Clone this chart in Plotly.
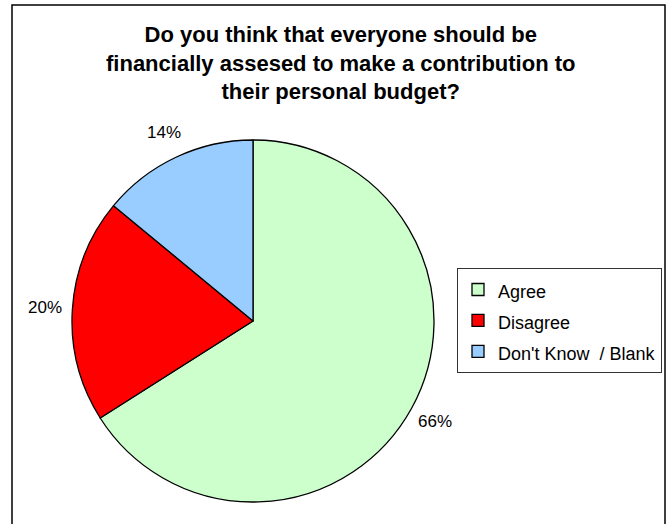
import math
import plotly.graph_objects as go

# Survey responses
categories = ["Agree", "Disagree", "Don't Know  / Blank"]
shares = [66, 20, 14]
colors = ["#CCFFCC", "#FF0000", "#99CCFF"]

title_lines = [
    "Do you think that everyone should be",
    "financially assesed to make a contribution to",
    "their personal budget?",
]

W, H = 667, 524
FONT = "Liberation Sans, Arial, sans-serif"

# Pie geometry in pixels (centre and radius)
PIE_CX, PIE_CY, PIE_R = 253, 321, 181
LABEL_R = PIE_R * 1.15

fig = go.Figure(
    go.Pie(
        labels=[f"<span style='font-size:18px'>{c}</span>" for c in categories],
        values=shares,
        sort=False,
        direction="clockwise",
        rotation=0,
        marker=dict(colors=colors, line=dict(color="#000000", width=1.3)),
        textinfo="none",
        hovertext=categories,
        hoverinfo="text+percent",
        domain=dict(
            x=[(PIE_CX - PIE_R) / W, (PIE_CX + PIE_R) / W],
            y=[1 - (PIE_CY + PIE_R) / H, 1 - (PIE_CY - PIE_R) / H],
        ),
    )
)

# Percentage labels placed outside each slice, at its mid-angle
annotations = []
total = sum(shares)
start = 0.0
for v in shares:
    mid = (start + v / 2) / total * 2 * math.pi  # clockwise from 12 o'clock
    start += v
    px = PIE_CX + LABEL_R * math.sin(mid)
    py = PIE_CY - LABEL_R * math.cos(mid)
    annotations.append(
        dict(
            x=px / W,
            y=1 - py / H,
            xref="paper",
            yref="paper",
            text=f"{round(v / total * 100)}%",
            showarrow=False,
            xanchor="center",
            yanchor="middle",
            font=dict(family=FONT, size=17, color="#000000"),
        )
    )

# Chart title
annotations.append(
    dict(
        x=340 / W,
        y=1 - 63 / H,
        xref="paper",
        yref="paper",
        text="<b>" + "<br>".join(title_lines) + "</b>",
        showarrow=False,
        xanchor="center",
        yanchor="middle",
        align="center",
        font=dict(family=FONT, size=22, color="#000000"),
    )
)

fig.update_layout(
    width=W,
    height=H,
    margin=dict(l=0, r=0, t=0, b=0),
    paper_bgcolor="#FFFFFF",
    plot_bgcolor="#FFFFFF",
    font=dict(family=FONT, color="#000000"),
    annotations=annotations,
    legend=dict(
        x=457 / W,
        y=1 - 268 / H,
        xanchor="left",
        yanchor="top",
        bordercolor="#333333",
        borderwidth=1,
        bgcolor="#FFFFFF",
        font=dict(family=FONT, size=21.5, color="#000000"),
    ),
    shapes=[
        dict(
            type="rect",
            xref="paper",
            yref="paper",
            x0=12 / W,
            x1=665 / W,
            y0=-0.05,
            y1=1 - 5 / H,
            line=dict(color="#000000", width=1.5),
            fillcolor="rgba(0,0,0,0)",
            layer="above",
        )
    ],
)

fig.write_html("out.html")
